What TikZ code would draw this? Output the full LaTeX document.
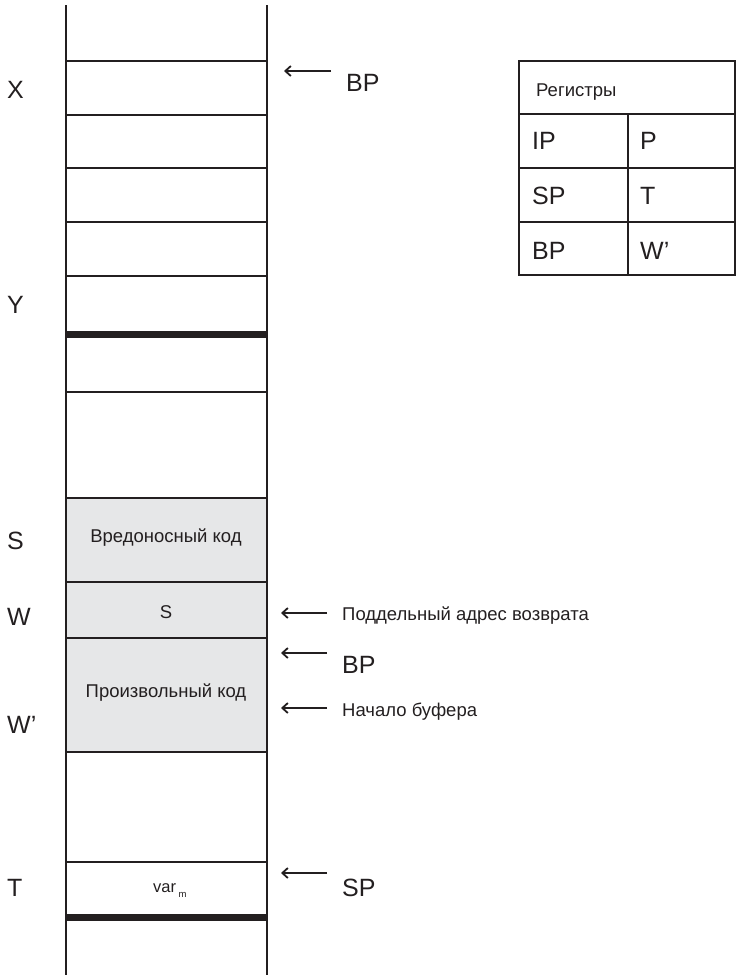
\documentclass[tikz,border=0pt]{standalone}
\usepackage{fontspec}
\setmainfont{Liberation Sans}
\usetikzlibrary{arrows.meta,positioning}
\definecolor{cellgray}{HTML}{E6E7E8}
\definecolor{ink}{HTML}{231F20}

\begin{document}
\begin{tikzpicture}[x=1pt, y=-1pt, >={Straight Barb[length=5.5pt,width=10pt,line width=1.8pt]},
  big/.style={font=\fontsize{25}{27}\selectfont, inner sep=0pt, text=ink},
  mid/.style={font=\fontsize{18.5}{20}\selectfont, inner sep=0pt, text=ink},
  cellline/.style={line width=2pt, draw=ink},
  boldline/.style={line width=7pt, draw=ink},
  ptr/.style={line width=1.8pt, draw=ink, ->}]
  \useasboundingbox (0,0) rectangle (738,975);

  % Stack column
  \fill[cellgray] (66,498) rectangle (267,752);
  \foreach \y in {61,115,168,222,276,392,498,582,638,752,862}
    \draw[cellline] (66,\y) -- (267,\y);
  \foreach \y in {334,917}
    \draw[boldline] (66,\y) -- (267,\y);
  \draw[line width=2.5pt, draw=ink] (66,5) -- (66,975);
  \draw[line width=2.5pt, draw=ink] (267,5) -- (267,975);

  % Cell contents
  \node[mid] (malCode) at (166,538) {Вредоносный код};
  \node[mid] (fakeRet) at (166,612) {S};
  \node[mid] (anyCode) at (166,693) {Произвольный код};
  \node[mid, font=\fontsize{16.5}{18}\selectfont, anchor=west] (varM) at (153,891)
    {var\kern2.5pt\raisebox{-5pt}{\fontsize{9.5}{10}\selectfont m}};

  % Address labels
  \node[big, anchor=west] (labX) at (7,90) {X};
  \node[big, anchor=west] (labY) at (7,305) {Y};
  \node[big, anchor=west] (labS) at (7,541) {S};
  \node[big, anchor=west] (labW) at (7,617) {W};
  \node[big, anchor=west] (labWp) at (7,725) {W’};
  \node[big, anchor=west] (labT) at (7,888) {T};

  % Pointers
  \node[big, anchor=west] (bpOld) at (346,83) {BP};
  \node[mid, anchor=west] (retNote) at (342,616) {Поддельный адрес возврата};
  \node[big, anchor=west] (bpNew) at (342,665) {BP};
  \node[mid, anchor=west] (bufNote) at (342,712) {Начало буфера};
  \node[big, anchor=west] (spNow) at (342,888) {SP};

  \coordinate (bpOldTail) at (331,71);  \coordinate (bpOldHead) at (284,71);
  \coordinate (retTail) at (327,613);   \coordinate (retHead) at (281,613);
  \coordinate (bpNewTail) at (327,653); \coordinate (bpNewHead) at (281,653);
  \coordinate (bufTail) at (327,708);   \coordinate (bufHead) at (281,708);
  \coordinate (spTail) at (327,873);    \coordinate (spHead) at (281,873);
  \draw[ptr] (bpOldTail) -- (bpOldHead);
  \draw[ptr] (retTail) -- (retHead);
  \draw[ptr] (bpNewTail) -- (bpNewHead);
  \draw[ptr] (bufTail) -- (bufHead);
  \draw[ptr] (spTail) -- (spHead);

  % Register table
  \draw[cellline] (519,61) rectangle (735,275);
  \foreach \y in {114,168,222}
    \draw[cellline] (519,\y) -- (735,\y);
  \draw[cellline] (628,114) -- (628,275);
  \node[mid, anchor=west] (regTitle) at (536,92) {Регистры};
  \node[big, anchor=west] (regIP) at (532,141) {IP};
  \node[big, anchor=west] (regP) at (640,141) {P};
  \node[big, anchor=west] (regSP) at (532,196) {SP};
  \node[big, anchor=west] (regT) at (640,196) {T};
  \node[big, anchor=west] (regBP) at (532,251) {BP};
  \node[big, anchor=west] (regW) at (640,251) {W’};
\end{tikzpicture}
\end{document}
